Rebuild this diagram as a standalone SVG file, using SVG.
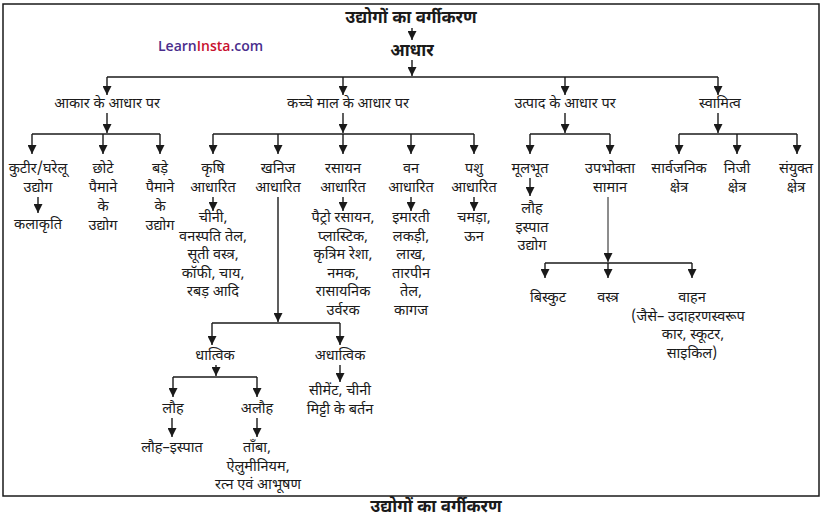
<svg xmlns="http://www.w3.org/2000/svg" width="822" height="527" viewBox="0 0 822 527">
<defs>
<marker id="ah" markerUnits="userSpaceOnUse" markerWidth="9" markerHeight="9" refX="9" refY="4.5" orient="auto">
<path d="M0,0 L9,4.5 L0,9 z" fill="#1a1a1a"/>
</marker>
<style>
text{font-family:"Noto Sans Devanagari","Noto Serif Devanagari","Noto Sans",sans-serif;font-size:14.5px;fill:#1a1a1a;text-anchor:middle}
.b{font-weight:bold;font-size:17px}
.c line{stroke:#1a1a1a;stroke-width:1.4;fill:none}
.c .a{marker-end:url(#ah)}
.c .t{stroke-width:1}
.wm{font-family:"Open Sans","Liberation Sans",sans-serif;font-size:14px;font-weight:600;text-anchor:start}
</style>
</defs>
<rect x="3" y="4" width="816" height="492" fill="none" stroke="#1a1a1a" stroke-width="1.5"/>
<text class="wm" x="158" y="51"><tspan style="fill:#4a2d8c">Learn</tspan><tspan style="fill:#c8102e">Insta</tspan><tspan style="fill:#4a2d8c">.com</tspan></text>

<g id="connectors" class="c">
<line class="a" x1="412" y1="28" x2="412" y2="40"/>
<line class="a" x1="412" y1="60" x2="412" y2="76"/>
<line x1="107" y1="77" x2="718" y2="77"/>
<line class="a" x1="107" y1="77" x2="107" y2="95"/>
<line class="a" x1="343" y1="77" x2="343" y2="95"/>
<line class="a" x1="565" y1="77" x2="565" y2="95"/>
<line class="a" x1="718" y1="77" x2="718" y2="95"/>
<line class="a" x1="107" y1="113" x2="107" y2="133"/>
<line class="a" x1="343" y1="113" x2="343" y2="133"/>
<line class="a" x1="565" y1="113" x2="565" y2="133"/>
<line class="a" x1="718" y1="113" x2="718" y2="133"/>
<line x1="32" y1="134" x2="160" y2="134"/>
<line class="a" x1="32" y1="134" x2="32" y2="154"/>
<line class="a" x1="103" y1="134" x2="103" y2="154"/>
<line class="a" x1="160" y1="134" x2="160" y2="154"/>
<line x1="213" y1="134" x2="474" y2="134"/>
<line class="a" x1="213" y1="134" x2="213" y2="154"/>
<line class="a" x1="278" y1="134" x2="278" y2="154"/>
<line class="a" x1="343" y1="134" x2="343" y2="154"/>
<line class="a" x1="411" y1="134" x2="411" y2="154"/>
<line class="a" x1="474" y1="134" x2="474" y2="154"/>
<line x1="530" y1="134" x2="610" y2="134"/>
<line class="a" x1="530" y1="134" x2="530" y2="154"/>
<line class="a" x1="610" y1="134" x2="610" y2="154"/>
<line x1="679" y1="134" x2="797" y2="134"/>
<line class="a" x1="679" y1="134" x2="679" y2="154"/>
<line class="a" x1="737" y1="134" x2="737" y2="154"/>
<line class="a" x1="797" y1="134" x2="797" y2="154"/>
<line class="a" x1="38" y1="197" x2="38" y2="213"/>
<line class="a" x1="213" y1="197" x2="213" y2="211"/>
<line class="a" x1="343" y1="197" x2="343" y2="211"/>
<line class="a" x1="411" y1="197" x2="411" y2="211"/>
<line class="a" x1="474" y1="197" x2="474" y2="211"/>
<line class="a" x1="278" y1="197" x2="278" y2="322"/>
<line x1="212" y1="323" x2="340" y2="323"/>
<line class="a" x1="212" y1="323" x2="212" y2="345"/>
<line class="a" x1="340" y1="323" x2="340" y2="345"/>
<line class="a" x1="216" y1="365" x2="216" y2="376"/>
<line x1="173" y1="377" x2="257" y2="377"/>
<line class="a" x1="173" y1="377" x2="173" y2="397"/>
<line class="a" x1="257" y1="377" x2="257" y2="397"/>
<line class="a" x1="172" y1="418" x2="172" y2="437"/>
<line class="a" x1="257" y1="418" x2="257" y2="437"/>
<line class="a" x1="340" y1="365" x2="340" y2="382"/>
<line class="a" x1="530" y1="178" x2="530" y2="196"/>
<line class="a t" x1="608" y1="197" x2="608" y2="262"/>
<line x1="545" y1="263" x2="692" y2="263"/>
<line class="a" x1="545" y1="263" x2="545" y2="278"/>
<line class="a" x1="608" y1="263" x2="608" y2="278"/>
<line class="a" x1="692" y1="263" x2="692" y2="278"/>
</g>

<g id="n-root"><text class="b" x="411" y="23">उद्योगों का वर्गीकरण</text></g>
<g id="n-aadhar"><text class="b" x="412" y="56">आधार</text></g>

<g id="n-akar"><text x="107" y="108">आकार के आधार पर</text></g>
<g id="n-kachche"><text x="348" y="108">कच्चे माल के आधार पर</text></g>
<g id="n-utpad"><text x="565" y="108">उत्पाद के आधार पर</text></g>
<g id="n-swamitva"><text x="720" y="108">स्वामित्व</text></g>

<g id="n-kutir"><text x="38" y="173">कुटीर/घरेलू</text><text x="38" y="192">उद्योग</text></g>
<g id="n-kalakriti"><text x="38" y="229">कलाकृति</text></g>
<g id="n-chhote"><text x="103" y="173">छोटे</text><text x="103" y="192">पैमाने</text><text x="103" y="211">के</text><text x="103" y="230">उद्योग</text></g>
<g id="n-bade"><text x="160" y="173">बड़े</text><text x="160" y="192">पैमाने</text><text x="160" y="211">के</text><text x="160" y="230">उद्योग</text></g>

<g id="n-krishi"><text x="213" y="173">कृषि</text><text x="213" y="192">आधारित</text></g>
<g id="n-krishi-ex"><text x="213" y="222">चीनी,</text><text x="213" y="240.5">वनस्पति तेल,</text><text x="213" y="259">सूती वस्त्र,</text><text x="213" y="277.5">कॉफी, चाय,</text><text x="213" y="296">रबड़ आदि</text></g>
<g id="n-khanij"><text x="278" y="173">खनिज</text><text x="278" y="192">आधारित</text></g>
<g id="n-rasayan"><text x="343" y="173">रसायन</text><text x="343" y="192">आधारित</text></g>
<g id="n-rasayan-ex"><text x="343" y="222">पैट्रो रसायन,</text><text x="343" y="240.5">प्लास्टिक,</text><text x="343" y="259">कृत्रिम रेशा,</text><text x="343" y="277.5">नमक,</text><text x="343" y="296">रासायनिक</text><text x="343" y="314.5">उर्वरक</text></g>
<g id="n-van"><text x="411" y="173">वन</text><text x="411" y="192">आधारित</text></g>
<g id="n-van-ex"><text x="411" y="222">इमारती</text><text x="411" y="240.5">लकड़ी,</text><text x="411" y="259">लाख,</text><text x="411" y="277.5">तारपीन</text><text x="411" y="296">तेल,</text><text x="411" y="314.5">कागज</text></g>
<g id="n-pashu"><text x="474" y="173">पशु</text><text x="474" y="192">आधारित</text></g>
<g id="n-pashu-ex"><text x="474" y="222">चमड़ा,</text><text x="474" y="240.5">ऊन</text></g>

<g id="n-dhatvik"><text x="215" y="360">धात्विक</text></g>
<g id="n-adhatvik"><text x="340" y="360">अधात्विक</text></g>
<g id="n-adhatvik-ex"><text x="340" y="395">सीमेंट, चीनी</text><text x="340" y="413.5">मिट्टी के बर्तन</text></g>
<g id="n-lauh"><text x="173" y="413">लौह</text></g>
<g id="n-alauh"><text x="257" y="413">अलौह</text></g>
<g id="n-lauh-ex"><text x="172" y="452">लौह–इस्पात</text></g>
<g id="n-alauh-ex"><text x="257" y="452">ताँबा,</text><text x="258" y="470.5">ऐलुमीनियम,</text><text x="258" y="489">रत्न एवं आभूषण</text></g>

<g id="n-mulbhut"><text x="530" y="173">मूलभूत</text></g>
<g id="n-mulbhut-ex"><text x="532" y="213">लौह</text><text x="532" y="231.5">इस्पात</text><text x="532" y="250">उद्योग</text></g>
<g id="n-upbhokta"><text x="610" y="173">उपभोक्ता</text><text x="610" y="192">सामान</text></g>
<g id="n-biscuit"><text x="548" y="302">बिस्कुट</text></g>
<g id="n-vastra"><text x="608" y="302">वस्त्र</text></g>
<g id="n-vahan"><text x="692" y="302">वाहन</text><text x="688" y="320.5">(जैसे– उदाहरणस्वरूप</text><text x="693" y="339">कार, स्कूटर,</text><text x="692" y="357.5">साइकिल)</text></g>

<g id="n-sarvajanik"><text x="679" y="173">सार्वजनिक</text><text x="679" y="192">क्षेत्र</text></g>
<g id="n-niji"><text x="737" y="173">निजी</text><text x="737" y="192">क्षेत्र</text></g>
<g id="n-sanyukt"><text x="796" y="173">संयुक्त</text><text x="796" y="192">क्षेत्र</text></g>

<g id="caption"><text class="b" x="436" y="512">उद्योगों का वर्गीकरण</text></g>
</svg>
